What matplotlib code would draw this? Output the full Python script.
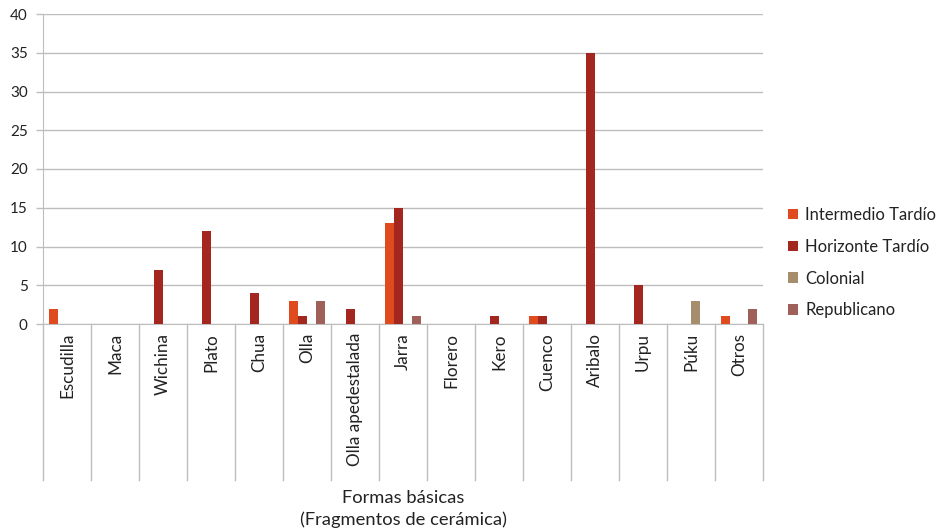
import matplotlib
matplotlib.use("Agg")
import matplotlib.pyplot as plt
import numpy as np
from matplotlib.patches import Patch

plt.rcParams['font.family'] = ['Lato', 'DejaVu Sans']

categories = ["Escudilla", "Maca", "Wichina", "Plato", "Chua", "Olla",
              "Olla apedestalada", "Jarra", "Florero", "Kero", "Cuenco",
              "Aribalo", "Urpu", "Púku", "Otros"]
series_names = ["Intermedio Tardío", "Horizonte Tardío", "Colonial", "Republicano"]
intermedio = [2, 0, 0, 0, 0, 3, 0, 13, 0, 0, 1, 0, 0, 0, 1]
horizonte  = [0, 0, 7, 12, 4, 1, 2, 15, 0, 1, 1, 35, 5, 0, 0]
colonial   = [0, 0, 0, 0, 0, 0, 0, 0, 0, 0, 0, 0, 0, 3, 0]
republicano = [0, 0, 0, 0, 0, 3, 0, 1, 0, 0, 0, 0, 0, 0, 2]
yticks = [0, 5, 10, 15, 20, 25, 30, 35, 40]
xlabel = "Formas básicas\n(Fragmentos de cerámica)"

colors = ["#E04A1F", "#A3261F", "#A68E6C", "#A0605A"]
series = [intermedio, horizonte, colonial, republicano]

W, H = 936, 532
fig = plt.figure(figsize=(W / 100, H / 100), dpi=100)
x0, x1, ytop, ybot = 43, 763, 14, 324
ax = fig.add_axes([x0 / W, (H - ybot) / H, (x1 - x0) / W, (ybot - ytop) / H])

n = len(categories)
bw = 9 / 48
off = 6 / 48
x = np.arange(n)
for k, (vals, c) in enumerate(zip(series, colors)):
    pos = x + off + k * bw + bw / 2
    v = np.array(vals, dtype=float)
    mask = v > 0
    ax.bar(pos[mask], v[mask], width=bw, color=c, zorder=3, linewidth=0)

ax.set_xlim(0, n)
ax.set_ylim(0, 40)
ax.set_yticks(yticks)
ax.set_yticklabels([str(t) for t in yticks], fontsize=11, color="#222222")
ax.yaxis.grid(True, color="#BDBDBD", linewidth=1.0, zorder=0)
ax.tick_params(axis='y', length=5, color="#BDBDBD", width=1.0, pad=6)
ax.set_xticks([])
for s in ["top", "right"]:
    ax.spines[s].set_visible(False)
ax.spines["left"].set_color("#BDBDBD")
ax.spines["bottom"].set_color("#BDBDBD")

# category table lines and labels
trans = matplotlib.transforms.blended_transform_factory(ax.transData, ax.transAxes)
ylow = -(480 - ybot) / (ybot - ytop)
for i in range(n + 1):
    ax.plot([i, i], [0, ylow], transform=trans, color="#BDBDBD", linewidth=1.0,
            clip_on=False, zorder=1)
lab_top = -(333 - ybot) / (ybot - ytop)
for i, cat in enumerate(categories):
    ax.text(i + 0.5, lab_top, cat, transform=trans, rotation=90, ha='center',
            va='top', fontsize=12.3, color="#222222")

fig.text((x0 + x1) / 2 / W, 1 - 509 / H, xlabel, ha='center', va='center',
         fontsize=13.2, color="#222222", linespacing=1.4)

handles = [Patch(facecolor=c, edgecolor='none') for c in colors]
leg = ax.legend(handles, series_names, loc='center left',
                bbox_to_anchor=(1.025, 0.198), frameon=False, fontsize=12,
                handlelength=0.6, handleheight=0.6, handletextpad=0.45,
                labelspacing=0.95, borderaxespad=0)
for t in leg.get_texts():
    t.set_color("#222222")

fig.savefig("out.png", dpi=100)
